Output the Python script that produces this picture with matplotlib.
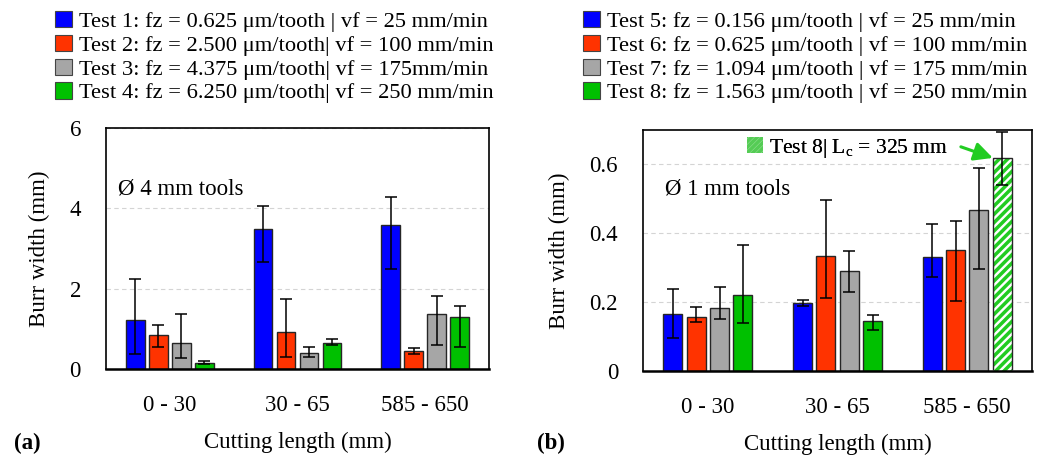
import matplotlib
matplotlib.use("Agg")
import matplotlib.pyplot as plt
import numpy as np
from matplotlib.patches import Patch

plt.rcParams['font.family'] = ['Liberation Serif', 'DejaVu Serif']
plt.rcParams['font.size'] = 16.5
plt.rcParams['hatch.linewidth'] = 2.5

# --- data ---
groups = ["0 - 30", "30 - 65", "585 - 650"]
colors = ["#0000FF", "#FF3300", "#A6A6A6", "#00C000"]

labels_a = ["Test 1: fz = 0.625 \u03bcm/tooth | vf = 25 mm/min",
            "Test 2: fz = 2.500 \u03bcm/tooth| vf = 100 mm/min",
            "Test 3: fz = 4.375 \u03bcm/tooth| vf = 175mm/min",
            "Test 4: fz = 6.250 \u03bcm/tooth| vf = 250 mm/min"]
# values per test, one entry per cutting length group
mean_a = [[1.21, 3.48, 3.59],
          [0.85, 0.93, 0.46],
          [0.66, 0.39, 1.37],
          [0.15, 0.65, 1.29]]
lo_a = [[0.37, 2.66, 2.48],
        [0.56, 0.31, 0.37],
        [0.27, 0.29, 0.61],
        [0.12, 0.60, 0.54]]
hi_a = [[2.25, 4.07, 4.28],
        [1.10, 1.74, 0.52],
        [1.36, 0.56, 1.81],
        [0.20, 0.74, 1.58]]

labels_b = ["Test 5: fz = 0.156 \u03bcm/tooth | vf = 25 mm/min",
            "Test 6: fz = 0.625 \u03bcm/tooth | vf = 100 mm/min",
            "Test 7: fz = 1.094 \u03bcm/tooth | vf = 175 mm/min",
            "Test 8: fz = 1.563 \u03bcm/tooth | vf = 250 mm/min"]
mean_b = [[0.165, 0.198, 0.332],
          [0.158, 0.335, 0.351],
          [0.182, 0.290, 0.468],
          [0.220, 0.146, 0.619]]
lo_b = [[0.097, 0.188, 0.273],
        [0.141, 0.212, 0.204],
        [0.151, 0.230, 0.296],
        [0.140, 0.118, 0.540]]
hi_b = [[0.239, 0.205, 0.427],
        [0.186, 0.498, 0.437],
        [0.243, 0.350, 0.589],
        [0.365, 0.163, 0.693]]

yticks_a = [0, 2, 4, 6]
yticks_b = [0, 0.2, 0.4, 0.6]
yticklabels_b = ["0", "0.2", "0.4", "0.6"]

fig = plt.figure(figsize=(10.41, 4.59), dpi=100)
ax1 = fig.add_axes([0.1018, 0.196, 0.368, 0.525])
ax2 = fig.add_axes([0.6177, 0.1917, 0.3737, 0.525])

x = np.arange(len(groups))
width = 0.145
pitch = 0.18
green_hatch = "#22CC22"


def draw_panel(ax, means, los, his, hatch_last=False):
    handles = []
    for i in range(4):
        pos = x + (i - 1.5) * pitch
        m = np.array(means[i])
        err = [m - np.array(los[i]), np.array(his[i]) - m]
        if hatch_last and i == 3:
            # last bar of the last group is hatched (Lc = 325 mm)
            fc = [colors[i]] * (len(groups) - 1) + ["white"]
            bars = ax.bar(pos, m, width, color=fc, edgecolor="#262626", linewidth=1, zorder=2)
            b = bars[-1]
            b.set_edgecolor(green_hatch)
            b.set_hatch("////")
            b.set_linewidth(0)
            ax.bar(pos[-1], m[-1], width, fill=False, edgecolor="#262626", linewidth=1, zorder=3)
        else:
            bars = ax.bar(pos, m, width, color=colors[i], edgecolor="#262626", linewidth=1, zorder=2)
        ax.errorbar(pos, m, yerr=err, fmt="none", ecolor="black", elinewidth=1.1,
                    capsize=4.3, capthick=1.1, zorder=4)
        handles.append(Patch(facecolor=colors[i], edgecolor="#444444", linewidth=0.8))
    ax.set_xlim(-0.5, 2.5)
    ax.set_xticks(x)
    ax.set_xticklabels(groups)
    ax.tick_params(axis="y", length=0, pad=18)
    ax.tick_params(axis="x", length=0, pad=19)
    ax.yaxis.grid(True, linestyle=(0, (4, 3)), color="#d4d4d4", linewidth=0.8, zorder=0)
    ax.set_axisbelow(True)
    for s in ["top", "left", "right"]:
        ax.spines[s].set_linewidth(1.2)
    ax.spines["bottom"].set_linewidth(1.8)
    ax.set_ylabel("Burr width (mm)", labelpad=14)
    ax.set_xlabel("Cutting length (mm)", labelpad=11)
    return handles


h1 = draw_panel(ax1, mean_a, lo_a, hi_a)
ax1.set_ylim(0, 6)
ax1.set_yticks(yticks_a)
ax1.text(0.031, 0.747, "\u00d8 4 mm tools", transform=ax1.transAxes, va="center", ha="left")

h2 = draw_panel(ax2, mean_b, lo_b, hi_b, hatch_last=True)
ax2.set_ylim(0, 0.7)
ax2.set_yticks(yticks_b)
ax2.set_yticklabels(yticklabels_b)
ax2.text(0.057, 0.755, "\u00d8 1 mm tools", transform=ax2.transAxes, va="center", ha="left")

legkw = dict(frameon=False, handlelength=0.75, handleheight=0.75, handletextpad=0.3,
             labelspacing=0.12, borderpad=0, borderaxespad=0, fontsize=16.2)
fig.legend(h1, labels_a, loc="upper left", bbox_to_anchor=(55 / 1041, 1 - 11 / 459), **legkw)
fig.legend(h2, labels_b, loc="upper left", bbox_to_anchor=(583 / 1041, 1 - 11 / 459), **legkw)

# annotation for the hatched bar
hp = Patch(facecolor="#9be49b", edgecolor="#55cc55", hatch="//////", linewidth=0)
ann_kw = dict(legkw, fontsize=15.5)
leg3 = ax2.legend([hp], ["Test 8| L$_\\mathregular{c}$ = 325 mm"], loc="center left",
                  bbox_to_anchor=(0.267, 0.925), **ann_kw)
ax2.add_artist(leg3)
bx = x[-1] + 1.5 * pitch - width / 2
ax2.annotate("", xy=(bx, mean_b[3][-1]), xytext=(-23, 8), textcoords="offset points",
             arrowprops=dict(arrowstyle="-|>", color=green_hatch, lw=2.2, mutation_scale=28,
                             shrinkA=0, shrinkB=0), zorder=5)

fig.text(14 / 1041, 1 - 443 / 459, "(a)", fontweight="bold", va="center", ha="left")
fig.text(537 / 1041, 1 - 443 / 459, "(b)", fontweight="bold", va="center", ha="left")

fig.savefig("out.png", dpi=100)
